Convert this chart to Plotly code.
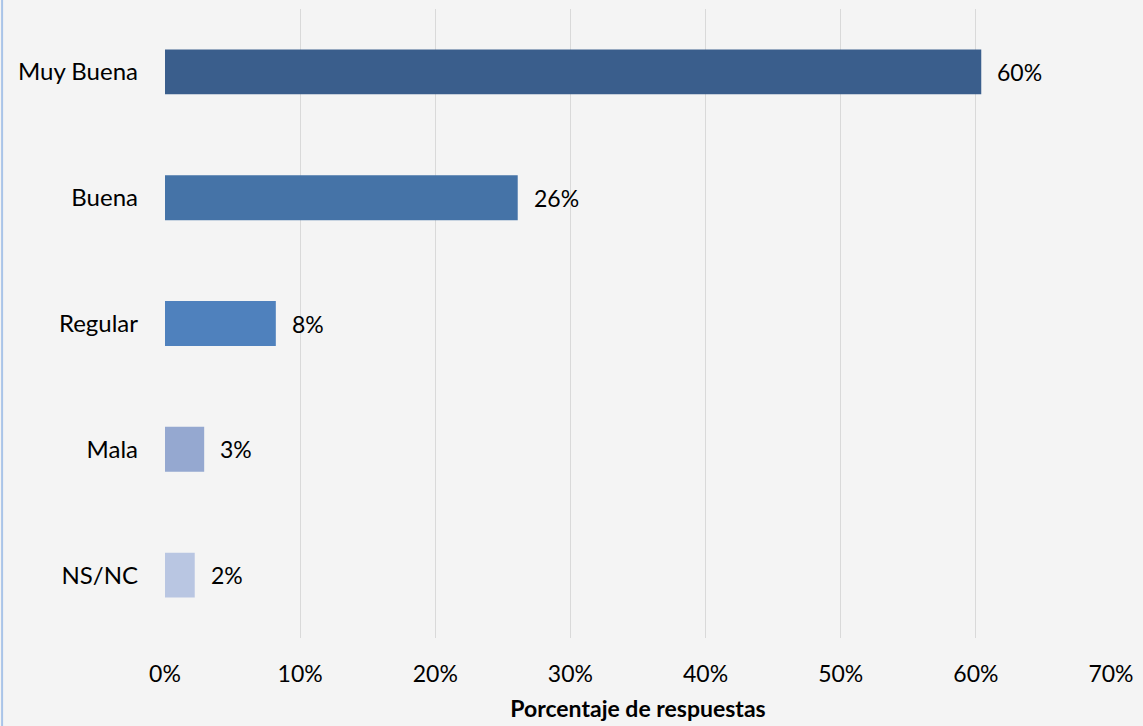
import plotly.graph_objects as go

categories = ["Muy Buena", "Buena", "Regular", "Mala", "NS/NC"]
values = [60.4, 26.1, 8.2, 2.9, 2.2]
labels = ["60%", "26%", "8%", "3%", "2%"]
colors = ["#3A5E8C", "#4573A7", "#4F81BD", "#95A8D0", "#B9C6E2"]
x_ticks = [0, 10, 20, 30, 40, 50, 60, 70]
x_tick_labels = ["0%", "10%", "20%", "30%", "40%", "50%", "60%", "70%"]

FONT = "Lato, Calibri, Carlito, sans-serif"

fig = go.Figure()
fig.add_trace(go.Bar(
    y=categories, x=values, orientation="h",
    marker=dict(color=colors, line=dict(width=0)),
    width=0.357, hoverinfo="skip",
))

for c, v, t in zip(categories, values, labels):
    fig.add_annotation(x=v, y=c, text=t, showarrow=False, xanchor="left",
                       xshift=14, font=dict(family=FONT, size=23, color="#000000"))

fig.add_shape(type="line", xref="paper", yref="paper",
              x0=-0.1722, x1=-0.1722, y0=-0.14, y1=1.02,
              line=dict(color="#A9C4E8", width=2))

fig.update_layout(
    width=1143, height=726,
    margin=dict(l=165, r=25, t=9, b=87),
    paper_bgcolor="#F4F4F4", plot_bgcolor="rgba(0,0,0,0)",
    showlegend=False, bargap=0.64,
    font=dict(family=FONT, size=23, color="#000000"),
    xaxis=dict(range=[0, 70], tickvals=x_ticks, ticktext=x_tick_labels,
               showgrid=True, gridcolor="#D9D9D9", gridwidth=1.3,
               zeroline=False, showline=False, ticks="", ticklabelstandoff=20,
               tickfont=dict(family=FONT, size=23),
               title=dict(text="<b>Porcentaje de respuestas</b>", standoff=14,
                          font=dict(family=FONT, size=23))),
    yaxis=dict(autorange="reversed", showgrid=False, zeroline=False,
               showline=False, ticks="", ticklabelstandoff=26,
               tickfont=dict(family=FONT, size=24)),
)

fig.write_html("out.html", config={"displayModeBar": False},
               post_script="document.body.style.margin='0';document.body.style.padding='0';")
